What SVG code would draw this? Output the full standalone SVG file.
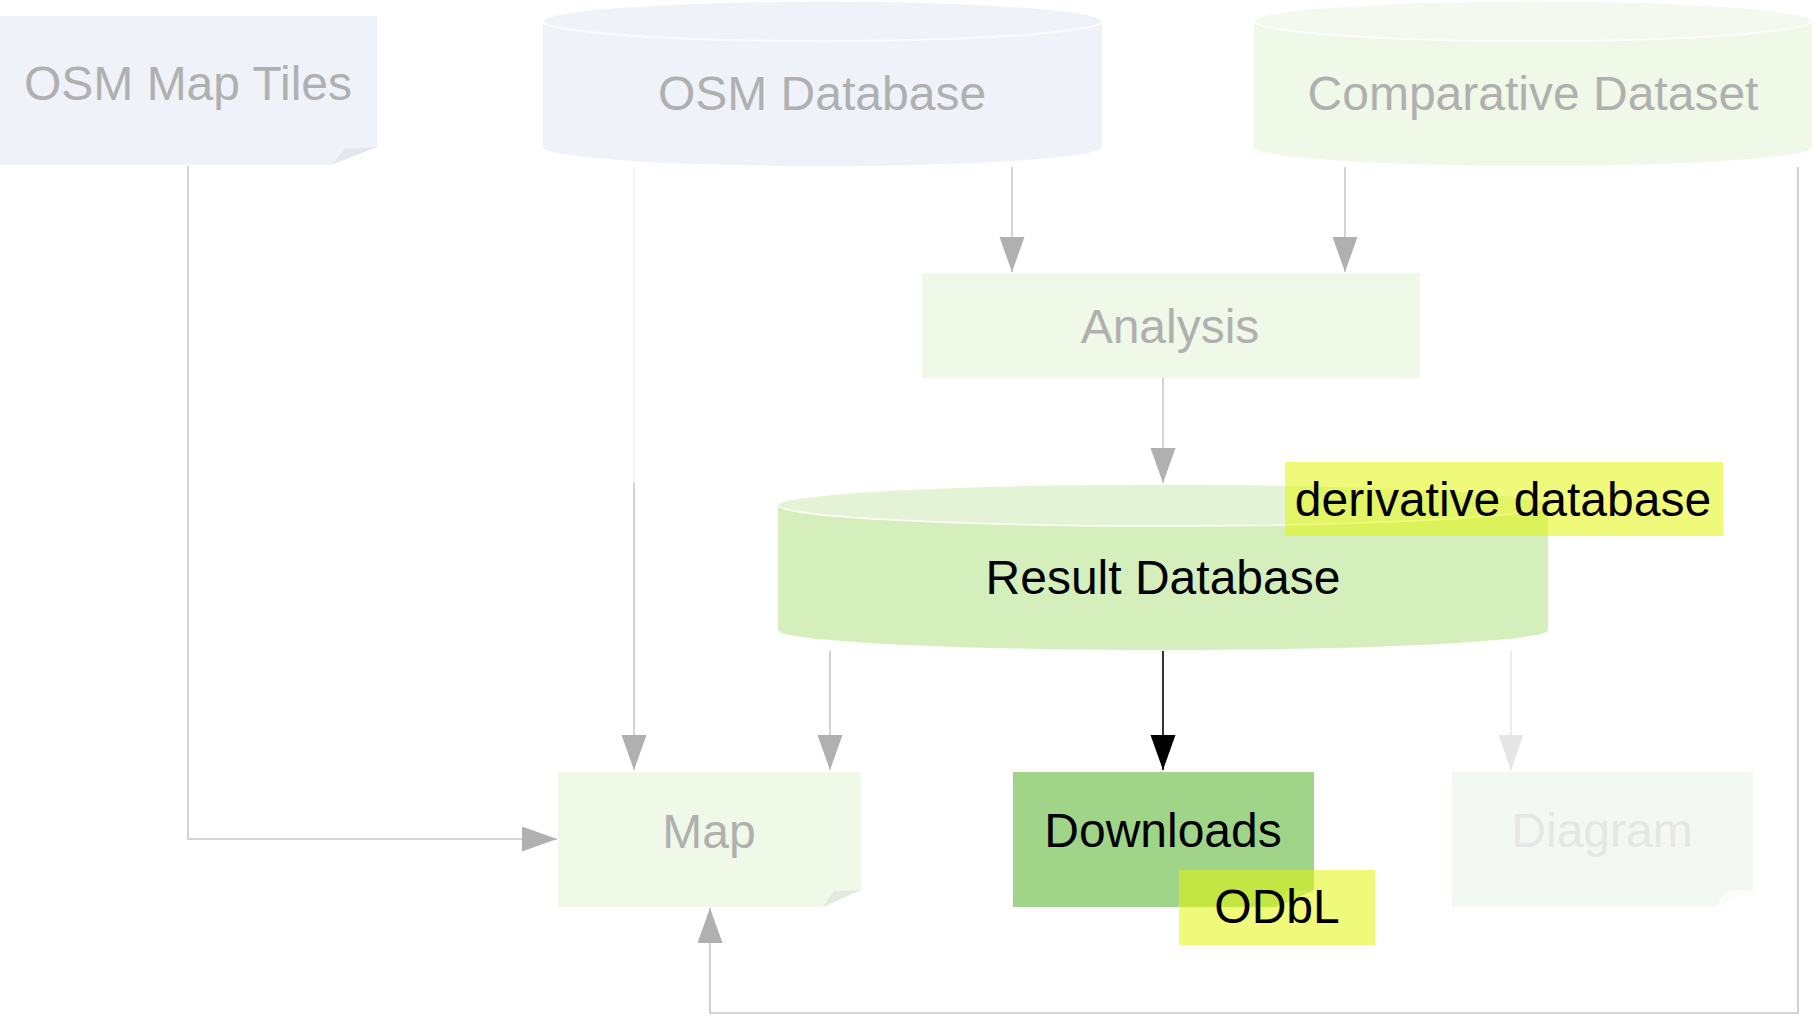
<svg xmlns="http://www.w3.org/2000/svg" width="1813" height="1016" viewBox="0 0 1813 1016">
<style>
text{font-family:"Liberation Sans",Arial,sans-serif;font-size:48px;text-anchor:middle}
.g{fill:#b0b0b0}
.k{fill:#000}
.ln{fill:none;stroke:#c8c8c8;stroke-width:1.6}
.lbl{fill:#e2f504;fill-opacity:0.53}
</style>
<defs>
<marker id="ag" markerUnits="userSpaceOnUse" markerWidth="36" markerHeight="26" refX="35" refY="12.5" orient="auto"><path d="M0,0 L35,12.5 L0,25 z" fill="#b0b0b0"/></marker>
<marker id="ak" markerUnits="userSpaceOnUse" markerWidth="36" markerHeight="26" refX="35" refY="12.5" orient="auto"><path d="M0,0 L35,12.5 L0,25 z" fill="#000"/></marker>
<marker id="al" markerUnits="userSpaceOnUse" markerWidth="36" markerHeight="26" refX="35" refY="12.5" orient="auto"><path d="M0,0 L35,12.5 L0,25 z" fill="#e6e6e6"/></marker>
</defs>
<rect width="1813" height="1016" fill="#fff"/>

<g id="osm-map-tiles">
<path d="M0,16 H377 V147 L331,165 H0 z" fill="#eff3f9"/>
<path d="M377,147 L345,149 L331,165 z" fill="#e1e6ef"/>
<text x="188" y="100" class="g">OSM Map Tiles</text>
</g>

<g id="osm-database">
<path d="M543,21 V147 A279.5,19 0 0 0 1102,147 V21 z" fill="#eff3f9"/>
<ellipse cx="822.5" cy="21" rx="279.5" ry="20" fill="#eff3f9" stroke="#fff" stroke-width="1.5"/>
<text x="822" y="110" class="g">OSM Database</text>
</g>

<g id="comparative-dataset">
<path d="M1254,21 V147 A279,19 0 0 0 1812,147 V21 z" fill="#f0f8e8"/>
<ellipse cx="1533" cy="21" rx="279" ry="20" fill="#f3f9ee" stroke="#fff" stroke-width="1.5"/>
<text x="1533" y="110" class="g">Comparative Dataset</text>
</g>

<g id="analysis">
<rect x="922" y="273" width="498" height="105" fill="#f0f8e8"/>
<text x="1170" y="343" class="g">Analysis</text>
</g>

<g id="result-database">
<path d="M778,505 V630 A385,20 0 0 0 1548,630 V505 z" fill="#d4efbb"/>
<ellipse cx="1163" cy="505" rx="385" ry="21" fill="#e4f3d5" stroke="#fff" stroke-width="1.5"/>
<text x="1163" y="594" class="k">Result Database</text>
</g>

<g id="map">
<path d="M558,772 H861 V890 L823,907 H558 z" fill="#f0f8e8"/>
<path d="M861,890 L834,891 L823,907 z" fill="#e3eadd"/>
<text x="709" y="848" class="g">Map</text>
</g>

<g id="downloads">
<path d="M1013,772 H1314 V890 L1276,907 H1013 z" fill="#a0d488"/>
<path d="M1314,890 L1287,891 L1276,907 z" fill="#b7dfa4"/>
<text x="1163" y="847" class="k">Downloads</text>
</g>

<g id="diagram">
<path d="M1452,772 H1753 V890 L1715,907 H1452 z" fill="#f4f8f2"/>
<path d="M1753,890 L1726,891 L1715,907 z" fill="#fbfcfa"/>
<text x="1602" y="847" fill="#e6e6e6">Diagram</text>
</g>

<g id="connectors">
<path class="ln" d="M188,166 V839 H557" marker-end="url(#ag)"/>
<path d="M634,167 V483" fill="none" stroke="#f0f0f0" stroke-width="1.6"/>
<path class="ln" d="M634,483 V770" marker-end="url(#ag)"/>
<path class="ln" d="M1012,167 V272" marker-end="url(#ag)"/>
<path class="ln" d="M1345,167 V272" marker-end="url(#ag)"/>
<path class="ln" d="M1163,378 V483" marker-end="url(#ag)"/>
<path class="ln" d="M830,651 V770" marker-end="url(#ag)"/>
<path d="M1163,651 V770" fill="none" stroke="#000" stroke-width="1.6" marker-end="url(#ak)"/>
<path d="M1511,651 V770" fill="none" stroke="#e6e6e6" stroke-width="1.6" marker-end="url(#al)"/>
<path class="ln" d="M1798,167 V1013 H710 V908" marker-end="url(#ag)"/>
</g>

<g id="label-derivative">
<rect x="1285" y="462" width="438" height="74" class="lbl"/>
<text x="1503" y="516" class="k">derivative database</text>
</g>

<g id="label-odbl">
<rect x="1179" y="870" width="196" height="75" class="lbl"/>
<text x="1277" y="923" class="k">ODbL</text>
</g>
</svg>
